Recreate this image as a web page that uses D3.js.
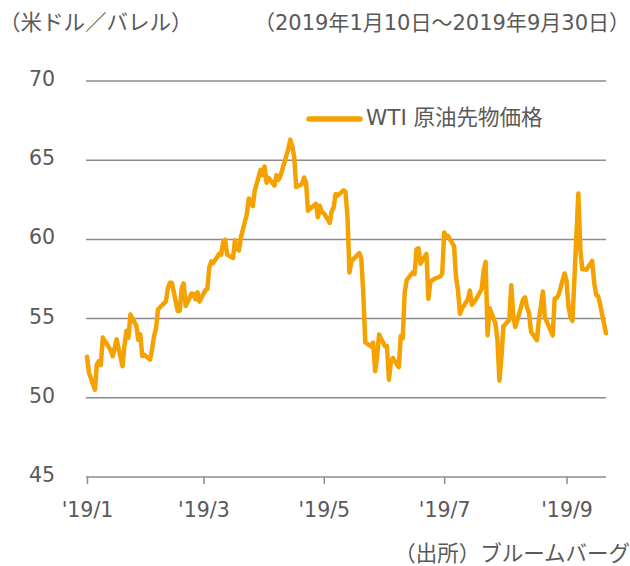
<!DOCTYPE html>
<html>
<head>
<meta charset="utf-8">
<script src="https://cdn.jsdelivr.net/npm/d3@7"></script>
<style>
  body { margin: 0; background: #fff; }
  text { font-family: "DejaVu Sans", "Noto Sans CJK JP", sans-serif; fill: #595959; }
</style>
</head>
<body>
<div id="chart"></div>
<script>
// WTI daily close, 2019/1/10 - 2019/9/30
var dates = [
  "2019-01-10","2019-01-11","2019-01-14","2019-01-15","2019-01-16","2019-01-17","2019-01-18","2019-01-22","2019-01-23","2019-01-24","2019-01-25","2019-01-28","2019-01-29","2019-01-30","2019-01-31",
  "2019-02-01","2019-02-04","2019-02-05","2019-02-06","2019-02-07","2019-02-08","2019-02-11","2019-02-12","2019-02-13","2019-02-14","2019-02-15","2019-02-19","2019-02-20","2019-02-21","2019-02-22","2019-02-25","2019-02-26","2019-02-27","2019-02-28",
  "2019-03-01","2019-03-04","2019-03-05","2019-03-06","2019-03-07","2019-03-08","2019-03-11","2019-03-12","2019-03-13","2019-03-14","2019-03-15","2019-03-18","2019-03-19","2019-03-20","2019-03-21","2019-03-22","2019-03-25","2019-03-26","2019-03-27","2019-03-28","2019-03-29",
  "2019-04-01","2019-04-02","2019-04-03","2019-04-04","2019-04-05","2019-04-08","2019-04-09","2019-04-10","2019-04-11","2019-04-12","2019-04-15","2019-04-16","2019-04-17","2019-04-18","2019-04-22","2019-04-23","2019-04-24","2019-04-25","2019-04-26","2019-04-29","2019-04-30",
  "2019-05-01","2019-05-02","2019-05-03","2019-05-06","2019-05-07","2019-05-08","2019-05-09","2019-05-10","2019-05-13","2019-05-14","2019-05-15","2019-05-16","2019-05-17","2019-05-20","2019-05-21","2019-05-22","2019-05-23","2019-05-24","2019-05-28","2019-05-29","2019-05-30","2019-05-31",
  "2019-06-03","2019-06-04","2019-06-05","2019-06-06","2019-06-07","2019-06-10","2019-06-11","2019-06-12","2019-06-13","2019-06-14","2019-06-17","2019-06-18","2019-06-19","2019-06-20","2019-06-21","2019-06-24","2019-06-25","2019-06-26","2019-06-27","2019-06-28",
  "2019-07-01","2019-07-02","2019-07-03","2019-07-05","2019-07-08","2019-07-09","2019-07-10","2019-07-11","2019-07-12","2019-07-15","2019-07-16","2019-07-17","2019-07-18","2019-07-19","2019-07-22","2019-07-23","2019-07-24","2019-07-25","2019-07-26","2019-07-29","2019-07-30","2019-07-31",
  "2019-08-01","2019-08-02","2019-08-05","2019-08-06","2019-08-07","2019-08-08","2019-08-09","2019-08-12","2019-08-13","2019-08-14","2019-08-15","2019-08-16","2019-08-19","2019-08-20","2019-08-21","2019-08-22","2019-08-23","2019-08-26","2019-08-27","2019-08-28","2019-08-29","2019-08-30",
  "2019-09-03","2019-09-04","2019-09-05","2019-09-06","2019-09-09","2019-09-10","2019-09-11","2019-09-12","2019-09-13","2019-09-16","2019-09-17","2019-09-18","2019-09-19","2019-09-20","2019-09-23","2019-09-24","2019-09-25","2019-09-26","2019-09-27","2019-09-30"
];
var prices = [
  52.59,51.59,50.51,52.11,52.31,52.07,53.80,53.01,52.62,53.13,53.69,51.99,53.31,54.23,53.79,
  55.26,54.56,53.66,54.01,52.64,52.72,52.41,53.10,53.90,54.41,55.59,56.09,56.92,57.26,57.26,55.48,55.50,56.94,57.22,
  55.80,56.59,56.56,56.22,56.66,56.07,56.79,56.87,58.26,58.61,58.52,59.09,59.03,59.83,59.98,59.04,58.82,59.94,59.41,59.30,60.14,
  61.59,62.58,62.46,62.10,63.08,64.40,64.05,64.61,63.58,63.89,63.40,64.05,63.76,64.00,65.70,66.30,65.89,65.21,63.30,63.50,63.91,
  63.60,61.81,61.94,62.25,61.40,62.12,61.70,61.66,61.04,61.78,62.02,62.87,62.76,63.10,62.99,61.42,57.91,58.63,59.14,58.81,56.59,53.50,
  53.25,53.48,51.68,52.59,53.99,53.26,53.27,51.14,52.28,52.51,51.93,53.90,53.76,56.65,57.43,57.90,57.83,59.38,59.43,58.47,
  59.09,56.25,57.34,57.51,57.66,57.83,60.43,60.20,60.21,59.58,57.62,56.78,55.30,55.63,56.22,56.77,55.88,56.02,56.20,56.87,58.05,58.58,
  53.95,55.66,54.69,53.63,51.09,52.54,54.50,54.93,57.10,55.23,54.47,54.87,56.21,56.34,55.68,55.35,54.17,53.64,54.93,55.78,56.71,55.10,
  53.94,56.26,56.30,56.52,57.85,57.40,55.75,55.09,54.85,62.90,59.34,58.11,58.13,58.09,58.64,57.29,56.49,56.41,55.91,54.07
];
var yTicks = [45, 50, 55, 60, 65, 70];
var xTickDates = ["2019-01-10", "2019-03-10", "2019-05-10", "2019-07-10", "2019-09-10"];
var xTickLabels = ["'19/1", "'19/3", "'19/5", "'19/7", "'19/9"];
var seriesName = "WTI 原油先物価格";

var parseDate = d3.timeParse("%Y-%m-%d");
var data = dates.map(function(d, i) { return { date: parseDate(d), value: prices[i] }; });

var width = 630, height = 566;
var svg = d3.select("#chart").append("svg")
    .attr("width", width)
    .attr("height", height);

var x = d3.scaleTime()
    .domain([parseDate("2019-01-10"), parseDate("2019-09-30")])
    .range([87, 606]);
var y = d3.scaleLinear()
    .domain([45, 70])
    .range([477, 81]);

// gridlines
svg.append("g")
    .selectAll("line")
    .data(yTicks.filter(function(t) { return t > 45; }))
    .enter().append("line")
    .attr("x1", 86).attr("x2", 606)
    .attr("y1", function(d) { return y(d); })
    .attr("y2", function(d) { return y(d); })
    .attr("stroke", "#8c8c8c")
    .attr("stroke-width", 1.5);

// y labels
svg.append("g")
    .selectAll("text")
    .data(yTicks)
    .enter().append("text")
    .attr("x", 55)
    .attr("y", function(d) { return y(d) + 5; })
    .attr("text-anchor", "end")
    .style("font-size", "20.5px")
    .text(function(d) { return d; });

// x axis
var xAxis = d3.axisBottom(x)
    .tickValues(xTickDates.map(parseDate))
    .tickFormat(function(d, i) { return xTickLabels[i]; })
    .tickSizeInner(7)
    .tickSizeOuter(0)
    .tickPadding(10);
var gx = svg.append("g")
    .attr("transform", "translate(0," + y(45) + ")")
    .call(xAxis);
gx.select(".domain").attr("d", "M86,0H606").attr("stroke", "#8c8c8c").attr("stroke-width", 1.5);
gx.selectAll(".tick line").attr("stroke", "#8c8c8c").attr("stroke-width", 1.5);
gx.selectAll(".tick text")
    .attr("y", 40)
    .attr("dy", 0)
    .style("font-size", "20.5px")
    .style("font-family", "'DejaVu Sans', sans-serif")
    .attr("fill", "#595959");

// line
var line = d3.line()
    .x(function(d) { return x(d.date); })
    .y(function(d) { return y(d.value); });
svg.append("path")
    .datum(data)
    .attr("d", line)
    .attr("fill", "none")
    .attr("stroke", "#f5a100")
    .attr("stroke-width", 4.5)
    .attr("stroke-linejoin", "round")
    .attr("stroke-linecap", "round");

// legend
svg.append("line")
    .attr("x1", 309).attr("x2", 360)
    .attr("y1", 119).attr("y2", 119)
    .attr("stroke", "#f5a100")
    .attr("stroke-width", 5.5)
    .attr("stroke-linecap", "round");
svg.append("text")
    .attr("x", 366)
    .attr("y", 125)
    .style("font-size", "21.5px")
    .text(seriesName);

// titles
svg.append("text")
    .attr("x", -1)
    .attr("y", 30)
    .style("font-size", "21.5px")
    .text("（米ドル／バレル）");
svg.append("text")
    .attr("x", 630)
    .attr("y", 30)
    .attr("text-anchor", "end")
    .style("font-size", "21px")
    .text("（2019年1月10日～2019年9月30日）");
svg.append("text")
    .attr("x", 630)
    .attr("y", 561)
    .attr("text-anchor", "end")
    .style("font-size", "21.5px")
    .text("（出所）ブルームバーグ");
</script>
</body>
</html>
